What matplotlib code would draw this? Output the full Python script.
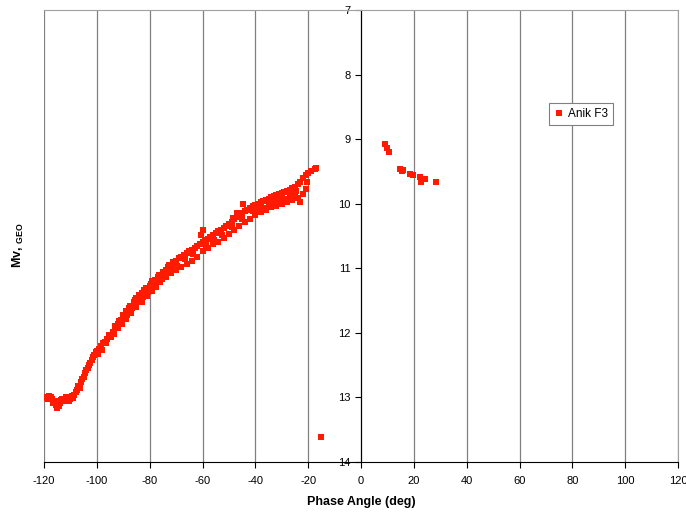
import matplotlib.pyplot as plt
import numpy as np

plt.rcParams['font.family'] = ['Liberation Sans', 'DejaVu Sans']
plt.rcParams['axes.unicode_minus'] = False

# Anik F3 brightness vs phase angle
# main arc, upper strand
phase_upper = [-120.5, -120, -119.5, -119, -118.5, -118, -117.5, -117, -116.5, -116,
               -115.5, -115, -114.5, -114, -113.5, -113, -112.5, -112, -111.5, -111,
               -110.5, -110, -109.5, -109, -108.5, -108, -107.5, -107, -106.5, -106,
               -105.5, -105, -104.5, -104, -103.5, -103, -102.5, -102, -101.5, -101,
               -100.5, -100, -99.5, -99, -98.5, -98, -97.5, -97, -96, -95.5,
               -95, -94, -93.5, -93, -92, -91.5, -91, -90, -89.5, -89,
               -88, -87.5, -87, -86, -85.5, -85, -84, -83.5, -83, -82,
               -81.5, -81, -80, -79.5, -79, -78, -77, -76.5, -76, -75,
               -74, -73, -72.5, -72, -71, -70, -69, -68, -67, -66,
               -65, -64, -63, -62, -61, -60, -60, -60.5, -59, -58,
               -57, -56, -55, -54, -53, -52, -51, -50, -49, -48,
               -47, -46, -45, -44, -43, -42, -41, -40, -39, -38,
               -37, -36, -35, -34, -33, -32, -31, -30, -29, -28,
               -27, -26, -25, -24, -23, -22, -21, -20, -19, -17.5, -17]
mag_upper = [13.00, 13.01, 12.99, 13.00, 13.02, 12.98, 13.00, 13.03, 13.08, 13.05,
             13.12, 13.17, 13.13, 13.08, 13.04, 13.02, 13.06, 13.03, 13.00, 13.04,
             13.06, 13.02, 12.98, 13.01, 12.96, 12.92, 12.88, 12.82, 12.85, 12.76,
             12.72, 12.68, 12.62, 12.58, 12.54, 12.50, 12.46, 12.42, 12.38, 12.34,
             12.30, 12.28, 12.33, 12.25, 12.20, 12.27, 12.16, 12.14, 12.10, 12.03,
             12.06, 11.98, 12.02, 11.90, 11.86, 11.82, 11.80, 11.72, 11.76, 11.66,
             11.62, 11.58, 11.60, 11.52, 11.49, 11.46, 11.42, 11.45, 11.38, 11.34,
             11.30, 11.33, 11.27, 11.24, 11.20, 11.18, 11.14, 11.10, 11.12, 11.06,
             11.02, 10.98, 10.95, 10.96, 10.90, 10.88, 10.84, 10.82, 10.80, 10.76,
             10.74, 10.72, 10.68, 10.66, 10.62, 10.60, 10.40, 10.48, 10.56, 10.54,
             10.52, 10.48, 10.46, 10.42, 10.40, 10.38, 10.35, 10.32, 10.28, 10.24,
             10.20, 10.18, 10.14, 10.12, 10.10, 10.06, 10.04, 10.02, 10.00, 9.98,
             9.96, 9.94, 9.92, 9.90, 9.88, 9.86, 9.85, 9.84, 9.82, 9.80,
             9.78, 9.76, 9.74, 9.70, 9.66, 9.60, 9.56, 9.52, 9.50, 9.46, 9.44]

# main arc, lower strand
phase_lower = [-92, -90.5, -89, -87, -85, -83, -81, -79, -77.5, -76,
               -74, -72, -70, -68, -66, -64, -62, -60, -58, -56,
               -54, -52, -50, -48, -46, -44, -42, -40, -38, -36,
               -34, -32, -30, -28, -26, -24, -23, -22, -21]
mag_lower = [11.93, 11.86, 11.78, 11.70, 11.60, 11.52, 11.43, 11.35, 11.29, 11.22,
             11.14, 11.08, 11.03, 10.98, 10.93, 10.88, 10.82, 10.74, 10.69, 10.63,
             10.59, 10.53, 10.47, 10.41, 10.35, 10.29, 10.23, 10.18, 10.13, 10.09,
             10.05, 10.03, 10.01, 9.98, 9.95, 9.91, 9.98, 9.85, 9.77]

# scattered points inside and around the band
phase_mid = [-98.5, -96.5, -94.5, -92.5, -90.5, -88.5, -86.5, -84.5, -82.5, -80.5,
             -78.5, -75.5, -73.5, -71.5, -69.5, -66.5, -63.5, -58.5, -55.5, -52.5,
             -49, -45, -41, -37, -33, -29, -27, -25, -47, -44.5,
             -48.5, -39, -35, -31, -26, -24.5, -20.5]
mag_mid = [12.24, 12.16, 12.06, 11.92, 11.80, 11.72, 11.62, 11.50, 11.44, 11.36,
           11.28, 11.16, 11.08, 11.00, 10.96, 10.86, 10.78, 10.64, 10.56, 10.48,
           10.36, 10.24, 10.12, 10.06, 9.98, 9.92, 9.90, 9.84, 10.15, 10.00,
           10.22, 10.08, 10.00, 9.94, 9.86, 9.80, 9.66]

# positive phase angles and the lone outlier
phase_right = [9.2, 10.0, 10.5, 14.8, 15.5, 16.0, 18.5, 19.5, 22.2, 22.8, 24.2, 28.4]
mag_right = [9.08, 9.13, 9.20, 9.46, 9.50, 9.48, 9.54, 9.56, 9.58, 9.66, 9.62, 9.66]
phase_out = [-15.3]
mag_out = [13.62]

x_ticks = np.arange(-120, 121, 20)
y_ticks = np.arange(7, 15, 1)

phase = phase_upper + phase_lower + phase_mid + phase_right + phase_out
mag = mag_upper + mag_lower + mag_mid + mag_right + mag_out

fig = plt.figure(figsize=(6.86, 5.16), dpi=100)
ax = fig.add_axes([44 / 686, 1 - 462 / 516, 634 / 686, 452 / 516])

ax.plot(phase, mag, 's', color='#ff1a00', markersize=4.2, markeredgewidth=0,
        label='Anik F3')

ax.set_xlim(-120, 120)
ax.set_ylim(14, 7)
ax.set_xticks(x_ticks)
ax.set_yticks(y_ticks)
ax.xaxis.grid(True, color='#808080', linewidth=0.9)
ax.set_axisbelow(True)

ax.spines['left'].set_position(('data', 0))
ax.spines['left'].set_color('black')
ax.spines['bottom'].set_color('black')
ax.spines['top'].set_color('#a0a0a0')
ax.spines['right'].set_color('#a0a0a0')
ax.tick_params(axis='both', labelsize=8, direction='out', length=4, width=0.8)
ax.tick_params(axis='x', pad=6)

ax.set_xlabel('Phase Angle (deg)', fontsize=9, fontweight='bold', labelpad=7)
fig.text(18 / 686, 1 - 245 / 516, r'Mv, $_{\mathregular{GEO}}$', rotation=90,
         ha='center', va='center', fontsize=9, fontweight='bold')

leg = ax.legend(loc='center', bbox_to_anchor=(581 / 686, 1 - 114 / 516),
                bbox_transform=fig.transFigure, fancybox=False, fontsize=8.5,
                handlelength=0.8, handletextpad=0.4, borderpad=0.4,
                framealpha=1, markerscale=0.9)
leg.get_frame().set_edgecolor('#808080')
leg.get_frame().set_linewidth(0.8)

fig.savefig('out.png', dpi=100)
